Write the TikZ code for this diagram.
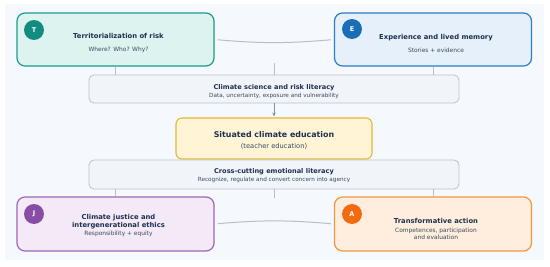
\documentclass[tikz,border=0pt]{standalone}
\usepackage{fontspec}
\setmainfont{DejaVu Sans}
\usetikzlibrary{arrows.meta}

\definecolor{bgc}{HTML}{F5F8FC}
\definecolor{ink}{HTML}{1E2F4F}
\definecolor{subink}{HTML}{3C4A5E}
\definecolor{linkc}{HTML}{B3C0CD}
\definecolor{arrowc}{HTML}{8494A6}
\definecolor{tealfill}{HTML}{DDF3EF}
\definecolor{tealline}{HTML}{1C9B8B}
\definecolor{tealdot}{HTML}{138C80}
\definecolor{bluefill}{HTML}{E6F0FB}
\definecolor{blueline}{HTML}{2A7DC6}
\definecolor{bluedot}{HTML}{1B6DB6}
\definecolor{purpfill}{HTML}{F3E9F7}
\definecolor{purpline}{HTML}{A066B8}
\definecolor{purpdot}{HTML}{8A4DA6}
\definecolor{orfill}{HTML}{FFEEDD}
\definecolor{orline}{HTML}{F59540}
\definecolor{ordot}{HTML}{F46A10}
\definecolor{midfill}{HTML}{F1F5F9}
\definecolor{midline}{HTML}{B6C3D0}
\definecolor{corefill}{HTML}{FFF5D6}
\definecolor{coreline}{HTML}{E2B935}

\newcommand{\ttl}[1]{{\fontsize{6.8}{7.5}\selectfont\bfseries\color{ink}#1}}
\newcommand{\sbt}[1]{{\fontsize{5.9}{7.5}\selectfont\color{subink}#1}}
\newcommand{\bttl}[1]{{\fontsize{6.6}{7.5}\selectfont\bfseries\color{ink}#1}}
\newcommand{\bsbt}[1]{{\fontsize{5.7}{7.5}\selectfont\color{subink}#1}}

\begin{document}
\begin{tikzpicture}[x=1pt,y=1pt]
\tikzset{pillar/.style={draw,rounded corners=8pt,line width=1.2pt,minimum width=197pt,minimum height=53pt},
  band/.style={draw=midline,fill=midfill,rounded corners=5pt,line width=0.8pt,minimum width=370pt,minimum height=28pt},
  txt/.style={align=center,inner sep=0pt,font=\fontsize{6}{7.5}\selectfont},
  badge/.style={circle,minimum size=20pt,inner sep=0pt,text=white,font=\fontsize{6.5}{7}\selectfont\bfseries},
  link/.style={draw=linkc,line width=1pt}}

\useasboundingbox (0,0) rectangle (550,266);
\fill[bgc] (5,6) rectangle (544,262);

% boxes
\path (115.5,226.5) node[pillar,draw=tealline,fill=tealfill] (T) {};
\path (433,226.5) node[pillar,draw=blueline,fill=bluefill] (E) {};
\path (274,177) node[band] (sci) {};
\path (274,127.5) node[draw=coreline,fill=corefill,rounded corners=6pt,line width=1.1pt,minimum width=196pt,minimum height=41pt] (core) {};
\path (274,91.5) node[band,minimum height=29pt] (emo) {};
\path (115.5,42) node[pillar,draw=purpline,fill=purpfill,minimum height=54pt] (J) {};
\path (433,42) node[pillar,draw=orline,fill=orfill,minimum height=54pt] (A) {};

% texts
\node[txt] (Tt) at ([shift={(3,-4)}]T.center) {\ttl{Territorialization of risk}\\[5.5pt]\sbt{Where? Who? Why?}};
\node[txt] (Et) at ([shift={(3,-4)}]E.center) {\ttl{Experience and lived memory}\\[5.5pt]\sbt{Stories + evidence}};
\node[txt] (scit) at ([shift={(0,-2.5)}]sci.center) {\bttl{Climate science and risk literacy}\\[0.5pt]\bsbt{Data, uncertainty, exposure and vulnerability}};
\node[txt] (coret) at ([shift={(0,-1.5)}]core.center) {{\fontsize{7.9}{9}\selectfont\bfseries\color{ink}Situated climate education}\\[3.5pt]{\fontsize{6.7}{7.5}\selectfont\color{subink}(teacher education)}};
\node[txt] (emot) at ([shift={(0,-1.5)}]emo.center) {\bttl{Cross-cutting emotional literacy}\\[0.5pt]\bsbt{Recognize, regulate and convert concern into agency}};
\node[txt] (Jt) at ([shift={(3,-2)}]J.center) {\ttl{Climate justice and}\\[0.5pt]\ttl{intergenerational ethics}\\[0.5pt]\sbt{Responsibility + equity}};
\node[txt] (At) at ([shift={(3,-4.5)}]A.center) {\ttl{Transformative action}\\[1.5pt]\sbt{Competences, participation}\\[-0.5pt]\sbt{and evaluation}};

\path (34,236) node[badge,fill=tealdot] (bT) {T};
\path (352,237) node[badge,fill=bluedot] (bE) {E};
\path (34,52) node[badge,fill=purpdot] (bJ) {J};
\path (352,52) node[badge,fill=ordot] (bA) {A};

\coordinate (up) at (274,203);
\coordinate (down) at (274,68);

\draw[link] (T.south) -- (T.south |- sci.north);
\draw[link] (E.south) -- (E.south |- sci.north);
\draw[link] (sci.north) -- (up);
\draw[link,draw=arrowc,-{Stealth[length=4pt,width=3.5pt]},shorten >=1pt] (sci.south) -- (core.north);
\draw[link] (J.north) -- (J.north |- emo.south);
\draw[link] (A.north) -- (A.north |- emo.south);
\draw[link] (emo.south) -- (down);
\draw[link,shorten <=3pt,shorten >=3pt] (T.east) to[bend right=5] (E.west);
\draw[link,shorten <=3pt,shorten >=3pt] (J.east) to[bend left=5] (A.west);

\end{tikzpicture}
\end{document}
